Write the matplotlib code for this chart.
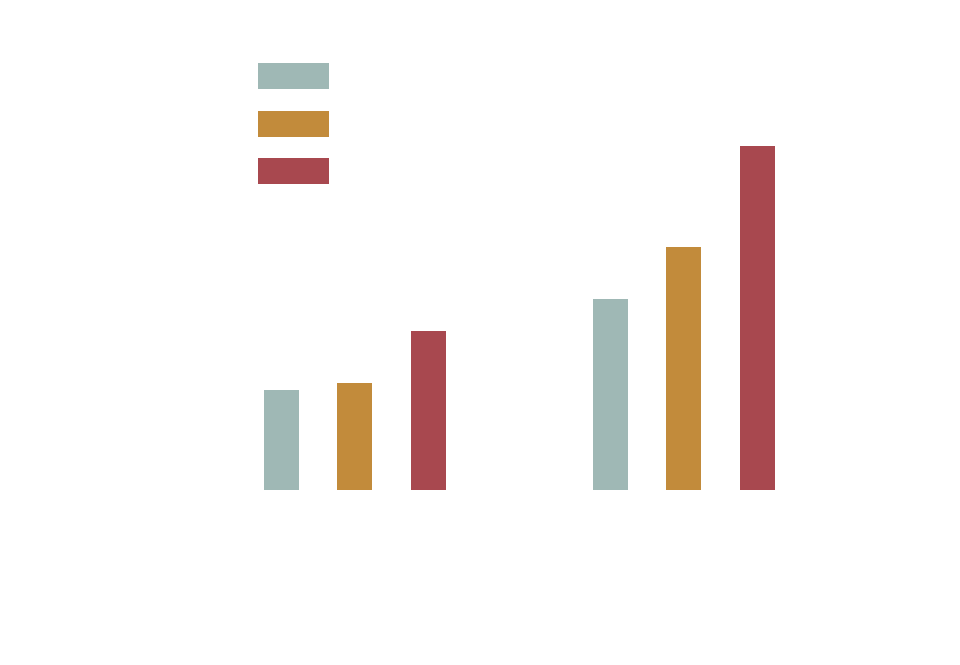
import matplotlib
matplotlib.use("Agg")
import matplotlib.pyplot as plt
import numpy as np
from matplotlib.patches import Patch

# data (units = pixels of bar height in the reference)
groups = ["", ""]
series = ["", "", ""]
values = [
  [100, 191],
  [107, 243],
  [159, 344],
]
colors = ["#9fb8b5", "#c28b3b", "#a8484f"]

fig = plt.figure(figsize=(9.6, 6.65), dpi=100)
ax = fig.add_axes([190/960., (665-490)/665., (848-190)/960., 400/665.])

x = np.arange(len(groups))
offset = 73.5/329.
width = 35/329.
for i in range(len(series)):
  ax.bar(x + (i-1)*offset, values[i], width, color=colors[i], label=series[i])

ax.set_xlim(-0.5, 1.5)
ax.set_ylim(0, 400)
ax.axis("off")

handles = [Patch(facecolor=c) for c in colors]
fs = 10
leg = fig.legend(handles, series, loc="upper left", bbox_to_anchor=(258/960., 1-63/665.),
  bbox_transform=fig.transFigure, frameon=False, borderpad=0, borderaxespad=0,
  fontsize=fs, handlelength=51.12/fs, handleheight=1.35*18.72/fs, labelspacing=(33.84-18.72)/fs + 0.03,
  handletextpad=0.5)

fig.savefig("out.png", dpi=100, facecolor="white")
